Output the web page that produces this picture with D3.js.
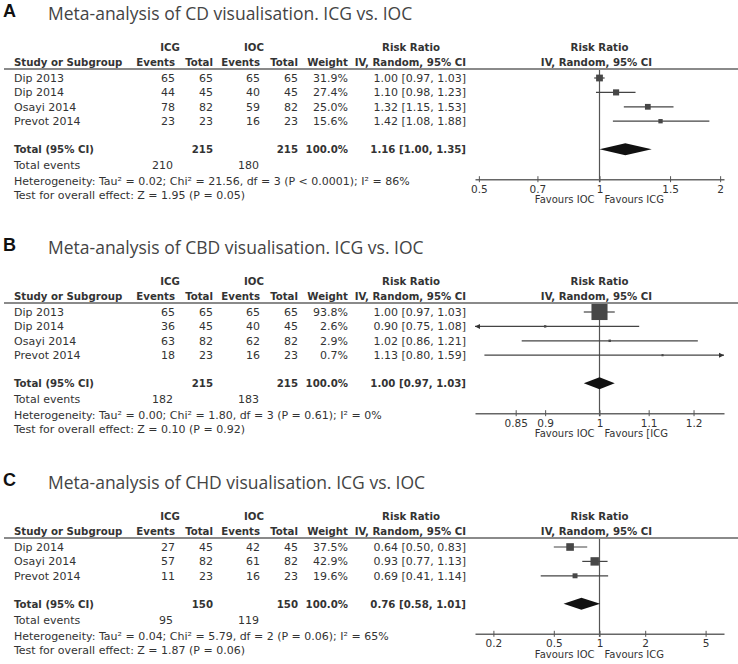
<!DOCTYPE html>
<html>
<head>
<meta charset="utf-8">
<script src="https://cdn.jsdelivr.net/npm/d3@7"></script>
<style>
  body { margin: 0; background: #fff; }
  svg { display: block; }
  text { font-family: "DejaVu Sans", sans-serif; fill: #333; font-size: 11px; }
  .letter { font-family: "Liberation Sans", Arial, sans-serif; font-weight: bold; font-size: 18px; fill: #111; }
  .title { font-family: "Open Sans", sans-serif; font-size: 17.5px; fill: #444; }
  .bold { font-weight: bold; font-size: 10.2px; }
  .small { font-size: 10px; }
</style>
</head>
<body>
<svg id="chart" width="738" height="664"></svg>
<script>
// ---- panel A: CD visualisation
const titleA = "Meta-analysis of CD visualisation. ICG vs. IOC";
const studiesA = ["Dip 2013", "Dip 2014", "Osayi 2014", "Prevot 2014"];
const icgEventsA = [65, 44, 78, 23];
const icgTotalA = [65, 45, 82, 23];
const iocEventsA = [65, 40, 59, 16];
const iocTotalA = [65, 45, 82, 23];
const weightA = [31.9, 27.4, 25.0, 15.6];
const rrA = [1.00, 1.10, 1.32, 1.42];
const lowA = [0.97, 0.98, 1.15, 1.08];
const highA = [1.03, 1.23, 1.53, 1.88];
const pooledA = [1.16, 1.00, 1.35];
const totalsA = [215, 215, 210, 180]; // ICG n, IOC n, ICG events, IOC events
const hetA = "Heterogeneity: Tau² = 0.02; Chi² = 21.56, df = 3 (P < 0.0001); I² = 86%";
const testA = "Test for overall effect: Z = 1.95 (P = 0.05)";
const ticksA = [0.5, 0.7, 1, 1.5, 2];
const favoursA = ["Favours IOC", "Favours ICG"];

// ---- panel B: CBD visualisation
const titleB = "Meta-analysis of CBD visualisation. ICG vs. IOC";
const studiesB = ["Dip 2013", "Dip 2014", "Osayi 2014", "Prevot 2014"];
const icgEventsB = [65, 36, 63, 18];
const icgTotalB = [65, 45, 82, 23];
const iocEventsB = [65, 40, 62, 16];
const iocTotalB = [65, 45, 82, 23];
const weightB = [93.8, 2.6, 2.9, 0.7];
const rrB = [1.00, 0.90, 1.02, 1.13];
const lowB = [0.97, 0.75, 0.86, 0.80];
const highB = [1.03, 1.08, 1.21, 1.59];
const pooledB = [1.00, 0.97, 1.03];
const totalsB = [215, 215, 182, 183];
const hetB = "Heterogeneity: Tau² = 0.00; Chi² = 1.80, df = 3 (P = 0.61); I² = 0%";
const testB = "Test for overall effect: Z = 0.10 (P = 0.92)";
const ticksB = [0.85, 0.9, 1, 1.1, 1.2];
const favoursB = ["Favours IOC", "Favours [ICG"];

// ---- panel C: CHD visualisation
const titleC = "Meta-analysis of CHD visualisation. ICG vs. IOC";
const studiesC = ["Dip 2014", "Osayi 2014", "Prevot 2014"];
const icgEventsC = [27, 57, 11];
const icgTotalC = [45, 82, 23];
const iocEventsC = [42, 61, 16];
const iocTotalC = [45, 82, 23];
const weightC = [37.5, 42.9, 19.6];
const rrC = [0.64, 0.93, 0.69];
const lowC = [0.50, 0.77, 0.41];
const highC = [0.83, 1.13, 1.14];
const pooledC = [0.76, 0.58, 1.01];
const totalsC = [150, 150, 95, 119];
const hetC = "Heterogeneity: Tau² = 0.04; Chi² = 5.79, df = 2 (P = 0.06); I² = 65%";
const testC = "Test for overall effect: Z = 1.87 (P = 0.06)";
const ticksC = [0.2, 0.5, 1, 2, 5];
const favoursC = ["Favours IOC", "Favours ICG"];

const fmt1 = d3.format(".1f");
const fmt2 = d3.format(".2f");

function makePanel(letter, title, studies, icgEv, icgTot, iocEv, iocTot, weight, rr, low, high,
                   pooled, totals, het, test, ticks, favours, span, top) {
  return {
    letter, title, het, test, ticks, favours, span, top, pooled, totals,
    rows: studies.map((s, i) => ({
      study: s, icgEv: icgEv[i], icgTot: icgTot[i], iocEv: iocEv[i], iocTot: iocTot[i],
      weight: weight[i], rr: rr[i], low: low[i], high: high[i]
    }))
  };
}

// span = ratio at the ends of the axis line (log-symmetric around 1)
const panels = [
  makePanel("A", titleA, studiesA, icgEventsA, icgTotalA, iocEventsA, iocTotalA, weightA, rrA, lowA, highA,
            pooledA, totalsA, hetA, testA, ticksA, favoursA, 2.045, 0),
  makePanel("B", titleB, studiesB, icgEventsB, icgTotalB, iocEventsB, iocTotalB, weightB, rrB, lowB, highB,
            pooledB, totalsB, hetB, testB, ticksB, favoursB, 1.273, 234),
  makePanel("C", titleC, studiesC, icgEventsC, icgTotalC, iocEventsC, iocTotalC, weightC, rrC, lowC, highC,
            pooledC, totalsC, hetC, testC, ticksC, favoursC, 6.61, 469)
];

// column right edges of the table
const COL = { study: 14, icgEv: 175, icgTot: 213, iocEv: 260, iocTot: 298, weight: 348, rr: 466 };
const PLOT = [475, 724];

const svg = d3.select("#chart");
const boxSize = d3.scaleLinear().domain([0, 100]).range([2, 17]);
const rowY = d3.scaleLinear().domain([0, 1]).range([78, 92.4]);

function ciText(v, lo, hi) {
  return `${fmt2(v)} [${fmt2(lo)}, ${fmt2(hi)}]`;
}

function drawPanel(p) {
  const g = svg.append("g").attr("transform", `translate(0,${p.top})`);
  const x = d3.scaleLog().domain([1 / p.span, p.span]).range(PLOT);
  const n = p.rows.length;
  const totalY = rowY(n - 1) + 28;
  const axisY = totalY + 30;

  g.append("text").attr("class", "letter").attr("x", 3).attr("y", 17).text(p.letter);
  g.append("text").attr("class", "title").attr("x", 48).attr("y", 20).text(p.title);

  // header
  const hdr = g.append("g").attr("class", "hdr");
  const h1 = 51, h2 = 66;
  hdr.append("text").attr("class", "bold").attr("x", 170).attr("y", h1).attr("text-anchor", "middle").text("ICG");
  hdr.append("text").attr("class", "bold").attr("x", 254).attr("y", h1).attr("text-anchor", "middle").text("IOC");
  hdr.append("text").attr("class", "bold").attr("x", 411).attr("y", h1).attr("text-anchor", "middle").text("Risk Ratio");
  hdr.append("text").attr("class", "bold").attr("x", x(1)).attr("y", h1).attr("text-anchor", "middle").text("Risk Ratio");
  hdr.append("text").attr("class", "bold").attr("x", COL.study).attr("y", h2).text("Study or Subgroup");
  [["Events", COL.icgEv], ["Total", COL.icgTot], ["Events", COL.iocEv], ["Total", COL.iocTot],
   ["Weight", COL.weight], ["IV, Random, 95% CI", COL.rr]].forEach(([t, cx]) => {
    hdr.append("text").attr("class", "bold").attr("x", cx).attr("y", h2).attr("text-anchor", "end").text(t);
  });
  hdr.append("text").attr("class", "bold").attr("x", x(1) - 3).attr("y", h2).attr("text-anchor", "middle")
    .text("IV, Random, 95% CI");

  g.append("line").attr("x1", 4).attr("x2", 738).attr("y1", 69).attr("y2", 69)
    .attr("stroke", "#8a8a8a").attr("stroke-width", 2);

  // null line
  g.append("line").attr("x1", x(1)).attr("x2", x(1)).attr("y1", 70).attr("y2", axisY + 3)
    .attr("stroke", "#555").attr("stroke-width", 1.2);

  // study rows
  const rows = g.selectAll(".row").data(p.rows).join("g").attr("class", "row")
    .attr("transform", (d, i) => `translate(0,${rowY(i)})`);
  rows.append("text").attr("x", COL.study).attr("y", 4).text(d => d.study);
  const cells = [["icgEv", d => d.icgEv], ["icgTot", d => d.icgTot], ["iocEv", d => d.iocEv],
                 ["iocTot", d => d.iocTot], ["weight", d => fmt1(d.weight) + "%"],
                 ["rr", d => ciText(d.rr, d.low, d.high)]];
  cells.forEach(([k, f]) => {
    rows.append("text").attr("x", COL[k]).attr("y", 4).attr("text-anchor", "end").text(f);
  });

  // whiskers, clipped to the axis with arrows
  const [d0, d1] = x.domain();
  rows.append("line")
    .attr("x1", d => x(Math.max(d.low, d0))).attr("x2", d => x(Math.min(d.high, d1)))
    .attr("stroke", "#444").attr("stroke-width", 1.2);
  rows.filter(d => d.low < d0).append("path")
    .attr("d", `M${PLOT[0]},0l5,-2.5v5z`).attr("fill", "#333");
  rows.filter(d => d.high > d1).append("path")
    .attr("d", `M${PLOT[1]},0l-5,-2.5v5z`).attr("fill", "#333");
  rows.append("rect")
    .attr("x", d => x(d.rr) - boxSize(d.weight) / 2).attr("y", d => -boxSize(d.weight) / 2)
    .attr("width", d => boxSize(d.weight)).attr("height", d => boxSize(d.weight))
    .attr("fill", "#474747");

  // totals row
  const t = g.append("g").attr("transform", `translate(0,${totalY})`);
  t.append("text").attr("class", "bold").attr("x", COL.study).attr("y", 4).text("Total (95% CI)");
  t.append("text").attr("class", "bold").attr("x", COL.icgTot).attr("y", 4).attr("text-anchor", "end").text(p.totals[0]);
  t.append("text").attr("class", "bold").attr("x", COL.iocTot).attr("y", 4).attr("text-anchor", "end").text(p.totals[1]);
  t.append("text").attr("class", "bold").attr("x", COL.weight).attr("y", 4).attr("text-anchor", "end").text("100.0%");
  t.append("text").attr("class", "bold").attr("x", COL.rr).attr("y", 4).attr("text-anchor", "end")
    .text(ciText(...p.pooled));
  const [pe, pl, ph] = p.pooled;
  t.append("path")
    .attr("d", `M${x(pl)},0L${x(pe)},-6L${x(ph)},0L${x(pe)},6Z`)
    .attr("fill", "#111");

  // footer lines
  g.append("text").attr("x", COL.study).attr("y", totalY + 20).text("Total events");
  g.append("text").attr("x", COL.icgEv - 2).attr("y", totalY + 20).attr("text-anchor", "end").text(p.totals[2]);
  g.append("text").attr("x", COL.iocEv - 1).attr("y", totalY + 20).attr("text-anchor", "end").text(p.totals[3]);
  g.append("text").attr("x", COL.study).attr("y", totalY + 36).text(p.het);
  g.append("text").attr("x", COL.study).attr("y", totalY + 50).text(p.test);

  // axis
  const axis = d3.axisBottom(x).tickValues(p.ticks).tickFormat(d => String(d))
    .tickSizeInner(3).tickSizeOuter(0).tickPadding(3);
  const ax = g.append("g").attr("transform", `translate(0,${axisY})`).call(axis);
  ax.select(".domain").attr("stroke", "#666").attr("stroke-width", 1.5);
  ax.selectAll(".tick line").attr("y1", -3).attr("y2", 3).attr("stroke", "#555");
  ax.selectAll(".tick text").attr("fill", "#333").style("font-family", '"DejaVu Sans", sans-serif')
    .style("font-size", "10.5px");

  g.append("text").attr("class", "small").attr("x", x(1) - 5).attr("y", axisY + 24)
    .attr("text-anchor", "end").text(p.favours[0]);
  g.append("text").attr("class", "small").attr("x", x(1) + 5).attr("y", axisY + 24).text(p.favours[1]);
}

panels.forEach(drawPanel);
</script>
</body>
</html>
